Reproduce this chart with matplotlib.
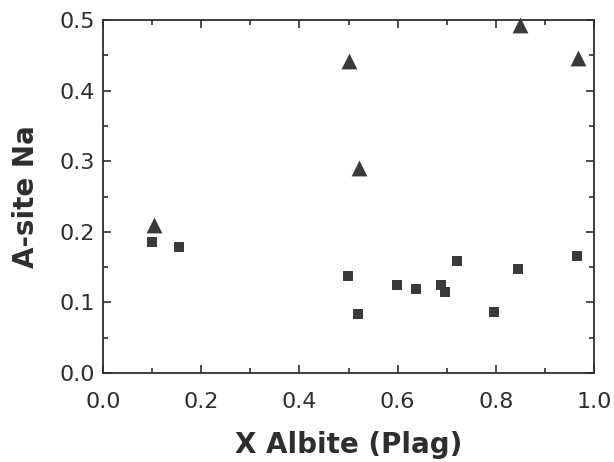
import matplotlib
matplotlib.use("Agg")
import matplotlib.pyplot as plt
from matplotlib.ticker import MultipleLocator, FormatStrFormatter

# Squares
sq_x = [0.10, 0.155, 0.498, 0.52, 0.598, 0.638, 0.689, 0.697, 0.72, 0.797, 0.846, 0.965]
sq_y = [0.186, 0.179, 0.138, 0.084, 0.125, 0.119, 0.125, 0.115, 0.158, 0.087, 0.148, 0.166]
# Triangles
tri_x = [0.104, 0.50, 0.522, 0.85, 0.967]
tri_y = [0.209, 0.442, 0.290, 0.493, 0.446]

x_label = "X Albite (Plag)"
y_label = "A-site Na"

plt.rcParams['font.family'] = ['DejaVu Sans']
ink = '#2e2e2e'

fig = plt.figure(figsize=(6.14, 4.62), dpi=100)
ax = fig.add_axes([0.1678, 0.1926, 0.7996, 0.764])

ax.scatter(sq_x, sq_y, marker='s', s=56, color='#3a3a3a', linewidths=0, zorder=3, clip_on=False)
ax.scatter(tri_x, tri_y, marker='^', s=130, color='#3a3a3a', linewidths=0, zorder=3, clip_on=False)

ax.set_xlim(0, 1.0)
ax.set_ylim(0, 0.5)
ax.xaxis.set_major_locator(MultipleLocator(0.2))
ax.xaxis.set_minor_locator(MultipleLocator(0.1))
ax.yaxis.set_major_locator(MultipleLocator(0.1))
ax.yaxis.set_minor_locator(MultipleLocator(0.05))
ax.xaxis.set_major_formatter(FormatStrFormatter('%.1f'))
ax.yaxis.set_major_formatter(FormatStrFormatter('%.1f'))

ax.tick_params(which='both', direction='in', top=True, right=True, color=ink,
               width=1.2, labelsize=16, labelcolor=ink)
ax.tick_params(which='major', length=6)
ax.tick_params(which='minor', length=3.5)
ax.tick_params(axis='x', which='major', pad=14)
ax.tick_params(axis='y', which='major', pad=6)

for sp in ax.spines.values():
    sp.set_linewidth(1.3)
    sp.set_color(ink)

ax.set_xlabel(x_label, fontsize=20, fontweight='bold', color=ink, labelpad=13)
ax.set_ylabel(y_label, fontsize=20, fontweight='bold', color=ink, labelpad=14)

fig.savefig('out.png', dpi=100)
